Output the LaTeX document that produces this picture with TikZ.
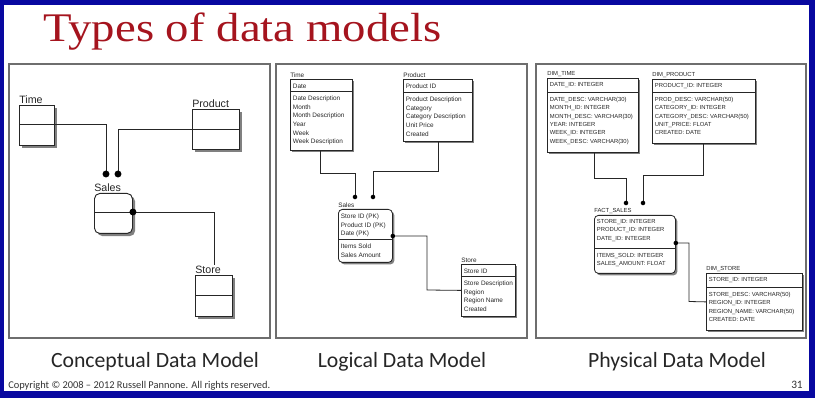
\documentclass[tikz,border=0pt]{standalone}
\usepackage{fontspec}
\usetikzlibrary{calc,shadows}
\newfontfamily\diafont{Liberation Sans}
\newfontfamily\calfont{Carlito}
\newfontfamily\ttlfont{Liberation Serif}
\definecolor{slideblue}{RGB}{8,8,160}
\definecolor{titlered}{RGB}{165,20,30}
\definecolor{panelgray}{RGB}{110,110,110}
\newcommand\ent[9]{%
  \node[#2,minimum width=#4*0.75pt,minimum height=#5*0.75pt] (#1) at #3 {};
  \node[lbl] (#1-t) at (#1.north west) {#7};
  \draw[divline] ($(#1.north west)+(0,#6)$) coordinate (#1-dw) -- ($(#1.north east)+(0,#6)$) coordinate (#1-de);
  \node[keyrow] (#1-k) at (#1.north west) {#8};
  \node[rowsty] (#1-o) at (#1-dw) {#9};
}
\begin{document}
\begin{tikzpicture}[x=0.75pt,y=-0.75pt,
  ebox/.style={draw=black!85, fill=white, anchor=north west, inner sep=0pt},
  cbox/.style={ebox, line width=0.7pt, drop shadow={shadow xshift=2pt,shadow yshift=-2pt,fill=black!50,opacity=1}},
  lbox/.style={ebox, line width=0.6pt, drop shadow={shadow xshift=1.5pt,shadow yshift=-1.5pt,fill=black!50,opacity=1}},
  panel/.style={draw=panelgray, line width=1.1pt},
  conn/.style={draw=black!85, line width=0.6pt},
  captxt/.style={anchor=base, inner sep=0pt, font=\calfont\fontsize{16.3}{16}\selectfont, text=black!85},
  lbl/.style={anchor=south west, inner xsep=0pt, inner ysep=0.8pt, text=black!85},
  divline/.style={line width=0.6pt, draw=black!85},
  keyrow/.style={anchor=north west, inner sep=0pt, align=left, text=black!85},
  rowsty/.style={anchor=north west, inner sep=0pt, align=left, text=black!85}]
\useasboundingbox (0,0) rectangle (815,398);
\fill[slideblue] (0,0) rectangle (815,398);
\fill[white] (4,5) rectangle (809,391);

\node[anchor=base west, inner sep=0pt, text=titlered, font=\ttlfont\fontsize{30.5}{30}\selectfont] (title) at (43,42) {\scalebox{1.15}[1]{Types of data models}};

\draw[panel] (9,64) rectangle (270,338);
\draw[panel] (276,64) rectangle (527,338);
\draw[panel] (536,64) rectangle (806,338);

% ---------- Conceptual ----------
\begin{scope}[lbl/.append style={font=\diafont\fontsize{8}{8}\selectfont}, divline/.append style={line width=0.7pt}, conn/.append style={line width=0.7pt}]
\ent{cTime}{cbox}{(19,105)}{35}{40}{19}{Time}{}{}
\ent{cProd}{cbox}{(192,109)}{47}{40}{20}{Product}{}{}
\ent{cSales}{cbox,rounded corners=4pt}{(94,193)}{38}{40}{19}{Sales}{}{}
\ent{cStore}{cbox}{(195,275)}{37}{41}{20}{Store}{}{}
\coordinate (cd1) at (106,174);
\coordinate (cd2) at (118,174);
\draw[conn] (cTime-de) -| (cd1);
\draw[conn] (cProd-dw) -| (cd2);
\draw[conn] (cSales-de) -| (214,0 |- cStore-t.north);
\fill (cd1) circle (2.6pt);
\fill (cd2) circle (2.6pt);
\fill (cSales-de) circle (2.6pt);
\end{scope}

% ---------- Logical ----------
\begin{scope}[lbl/.append style={font=\diafont\fontsize{4.8}{4.8}\selectfont},
  keyrow/.append style={xshift=2pt, yshift=-3.5pt, font=\diafont\fontsize{4.8}{6.5}\selectfont},
  rowsty/.append style={xshift=2pt, yshift=-3.5pt, font=\diafont\fontsize{4.8}{6.5}\selectfont}]
\ent{lTime}{lbox}{(290,79)}{62}{71}{12}{Time}{Date}{Date Description\\Month\\Month Description\\Year\\Week\\Week Description}
\ent{lProd}{lbox}{(403,79)}{69}{62}{13}{Product}{Product ID}{Product Description\\Category\\Category Description\\Unit Price\\Created}
\ent{lSales}{lbox,rounded corners=3pt}{(338,209)}{54}{53}{30}{Sales}{Store ID (PK)\\Product ID (PK)\\Date (PK)}{Items Sold\\Sales Amount}
\ent{lStore}{lbox}{(461,264)}{54}{52}{12}{Store}{Store ID}{Store Description\\Region\\Region Name\\Created}
\coordinate (ld1) at (355,197);
\coordinate (ld2) at (373,197);
\coordinate (ld3) at (lSales.east |- 0,236);
\draw[conn] (lTime.south -| 320,0) |- (355,173) -- (ld1);
\draw[conn] (lProd.south -| 438,0) |- (373,171) -- (ld2);
\draw[conn] (ld3) -| (427,290) -- (lStore.west);
\fill (ld1) circle (1.7pt);
\fill (ld2) circle (1.7pt);
\fill (ld3) circle (1.7pt);
\end{scope}

% ---------- Physical ----------
\begin{scope}[lbl/.append style={font=\diafont\fontsize{4.4}{4.4}\selectfont},
  keyrow/.append style={xshift=2pt, yshift=-3pt, font=\diafont\fontsize{4.4}{6.3}\selectfont},
  rowsty/.append style={xshift=2pt, yshift=-3.6pt, font=\diafont\fontsize{4.4}{6.3}\selectfont}]
\ent{pTime}{lbox}{(547,78)}{91}{74}{14}{DIM\_TIME}{DATE\_ID: INTEGER}{DATE\_DESC: VARCHAR(30)\\MONTH\_ID: INTEGER\\MONTH\_DESC: VARCHAR(30)\\YEAR: INTEGER\\WEEK\_ID: INTEGER\\WEEK\_DESC: VARCHAR(30)}
\ent{pProd}{lbox}{(652,79)}{103}{64}{13}{DIM\_PRODUCT}{PRODUCT\_ID: INTEGER}{PROD\_DESC: VARCHAR(50)\\CATEGORY\_ID: INTEGER\\CATEGORY\_DESC: VARCHAR(50)\\UNIT\_PRICE: FLOAT\\CREATED: DATE}
\ent{pSales}{lbox,rounded corners=3pt}{(594,215)}{81}{58}{33}{FACT\_SALES}{STORE\_ID: INTEGER\\PRODUCT\_ID: INTEGER\\DATE\_ID: INTEGER}{ITEMS\_SOLD: INTEGER\\SALES\_AMOUNT: FLOAT}
\ent{pStore}{lbox}{(706,273)}{96}{57}{14}{DIM\_STORE}{STORE\_ID: INTEGER}{STORE\_DESC: VARCHAR(50)\\REGION\_ID: INTEGER\\REGION\_NAME: VARCHAR(50)\\CREATED: DATE}
\coordinate (pd1) at (626,203);
\coordinate (pd2) at (643,203);
\coordinate (pd3) at (pSales.east |- 0,243);
\draw[conn] (pTime.south -| 594,0) |- (626,178) -- (pd1);
\draw[conn] (pProd.south -| 703,0) |- (643,175) -- (pd2);
\draw[conn] (pd3) -| (689,301.5) -- (pStore.west);
\fill (pd1) circle (1.7pt);
\fill (pd2) circle (1.7pt);
\fill (pd3) circle (1.7pt);
\end{scope}

% ---------- Captions ----------
\node[captxt] (capC) at (155,368) {Conceptual Data Model};
\node[captxt] (capL) at (402,368) {Logical Data Model};
\node[captxt] (capP) at (677,368) {Physical Data Model};
\node[anchor=base west, inner sep=0pt, font=\calfont\fontsize{7.8}{7.8}\selectfont, text=black!80] (copy) at (8,388.5) {Copyright © 2008 – 2012 Russell Pannone. All rights reserved.};
\node[anchor=base east, inner sep=0pt, font=\calfont\fontsize{8.5}{8.5}\selectfont, text=black!80] (pgno) at (803,388.5) {31};
\end{tikzpicture}
\end{document}
